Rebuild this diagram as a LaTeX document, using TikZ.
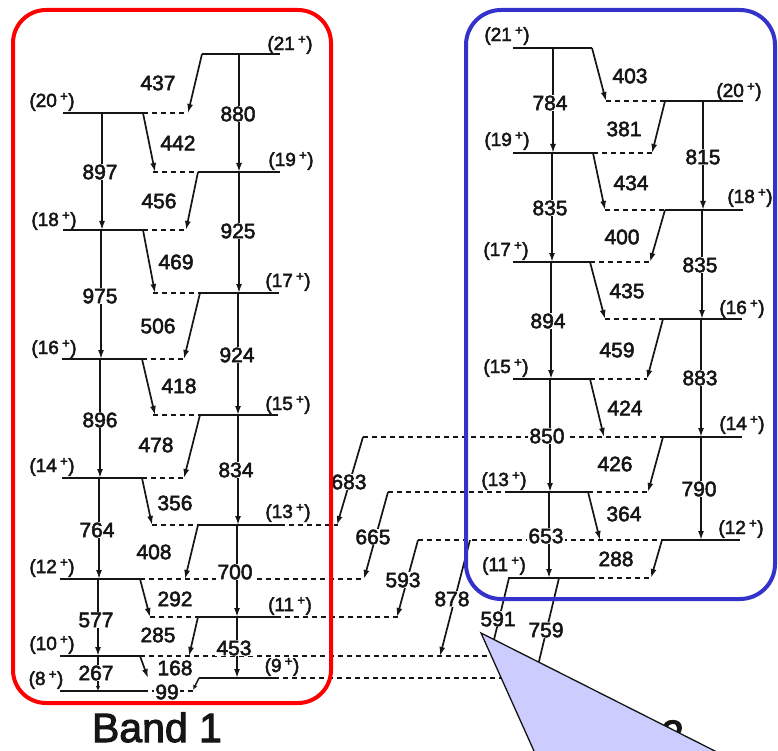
\documentclass[tikz,border=0pt]{standalone}
\usepackage{fontspec}
\setmainfont{Liberation Sans}[RawFeature={embolden=2.5}]
\usetikzlibrary{arrows.meta}
\definecolor{ink}{HTML}{151515}
\definecolor{bandred}{HTML}{FF0000}
\definecolor{bandblue}{HTML}{3333CC}
\definecolor{lav}{HTML}{CCCCFF}
\newcommand\spn[1]{(#1\,\textsuperscript{+})}
\begin{document}
\begin{tikzpicture}[x=1pt,y=-1pt,
  lev/.style={line width=2pt, draw=ink},
  dsh/.style={line width=1.3pt, draw=ink, dash pattern=on 5pt off 4pt},
  tr/.style={line width=1.7pt, draw=ink, -{Latex[length=9pt,width=6pt]}},
  trs/.style={line width=1.4pt, draw=ink, -{Latex[length=5pt,width=4.5pt]}},
  num/.style={font=\fontsize{21}{21}\selectfont, fill=white, inner sep=1pt, text=ink},
  spin/.style={font=\fontsize{19}{19}\selectfont, inner sep=0pt, text=ink},
  bandlab/.style={font=\fontsize{41}{41}\selectfont, inner sep=0pt, anchor=base, text=ink}]
\useasboundingbox (0,0) rectangle (778,751);
\clip (0,0) rectangle (778,751);
\fill[white] (0,0) rectangle (778,751);

% ---------------- Band 1 levels ----------------
\draw[lev] (202,54) -- (280,54);
\draw[lev] (63,113) -- (143,113);  \draw[dsh] (143,113) -- (188,113);
\draw[lev] (198,172) -- (280,172); \draw[dsh] (153,172) -- (198,172);
\draw[lev] (63,230) -- (143,230);  \draw[dsh] (143,230) -- (186,230);
\draw[lev] (198,293) -- (279,293); \draw[dsh] (153,293) -- (198,293);
\draw[lev] (62,359) -- (142,359);  \draw[dsh] (142,359) -- (184,359);
\draw[lev] (198,415) -- (278,415); \draw[dsh] (153,415) -- (198,415);
\draw[lev] (62,478) -- (142,478);  \draw[dsh] (142,478) -- (184,478);
\draw[lev] (198,525) -- (280,525); \draw[dsh] (152,525) -- (198,525); \draw[dsh] (280,525) -- (338,525);
\draw[lev] (60,579) -- (140,579);  \draw[dsh] (140,579) -- (364,579);
\draw[lev] (198,617) -- (276,617); \draw[dsh] (150,617) -- (198,617); \draw[dsh] (276,617) -- (398,617);
\draw[lev] (60,656) -- (140,656);  \draw[dsh] (140,656) -- (492,656);
\draw[lev] (199,678) -- (274,678); \draw[dsh] (274,678) -- (505,678);
\draw[lev] (60,691) -- (143,691);  \draw[dsh] (143,691) -- (193,691);

% ---------------- Band 1 transitions ----------------
\draw[tr] (202,54) -- (188,113);
\draw[tr] (239,54) -- (239,172);
\draw[tr] (143,113) -- (155,172);
\draw[tr] (102,113) -- (102,230);
\draw[tr] (198,172) -- (186,230);
\draw[tr] (239,172) -- (239,293);
\draw[tr] (143,230) -- (155,293);
\draw[tr] (101,230) -- (101,359);
\draw[tr] (200,293) -- (184,359);
\draw[tr] (238,293) -- (238,415);
\draw[tr] (142,359) -- (155,415);
\draw[tr] (100,359) -- (100,478);
\draw[tr] (200,415) -- (184,478);
\draw[tr] (238,415) -- (238,525);
\draw[tr] (142,478) -- (152,525);
\draw[tr] (99,478) -- (99,579);
\draw[tr] (198,525) -- (185,579);
\draw[tr] (237,525) -- (237,617);
\draw[tr] (140,579) -- (150,617);
\draw[tr] (98,579) -- (98,656);
\draw[tr] (198,617) -- (189,656);
\draw[tr] (237,617) -- (237,678);
\draw[tr] (140,656) -- (148,678);
\draw[trs] (98,656) -- (98,691);
\draw[trs] (199,678) -- (193,690);

% ---------------- Band 2 levels ----------------
\draw[lev] (513,48) -- (592,48);
\draw[lev] (663,101) -- (743,101); \draw[dsh] (606,101) -- (663,101);
\draw[lev] (513,153) -- (593,153); \draw[dsh] (593,153) -- (652,153);
\draw[lev] (665,210) -- (743,210); \draw[dsh] (605,210) -- (665,210);
\draw[lev] (513,262) -- (590,262); \draw[dsh] (590,262) -- (650,262);
\draw[lev] (663,319) -- (742,319); \draw[dsh] (605,319) -- (663,319);
\draw[lev] (513,379) -- (590,379); \draw[dsh] (590,379) -- (647,379);
\draw[lev] (663,437) -- (742,437); \draw[dsh] (363,437) -- (663,437);
\draw[lev] (505,492) -- (588,492); \draw[dsh] (388,492) -- (505,492); \draw[dsh] (588,492) -- (648,492);
\draw[lev] (662,540) -- (740,540); \draw[dsh] (418,540) -- (662,540);
\draw[lev] (508,578) -- (590,578); \draw[dsh] (590,578) -- (651,578);

% ---------------- Band 2 transitions ----------------
\draw[tr] (553,48) -- (553,153);
\draw[tr] (592,48) -- (606,101);
\draw[tr] (665,101) -- (652,153);
\draw[tr] (703,101) -- (703,210);
\draw[tr] (552,153) -- (552,262);
\draw[tr] (593,153) -- (605,210);
\draw[tr] (665,210) -- (650,262);
\draw[tr] (702,210) -- (702,319);
\draw[tr] (551,262) -- (551,379);
\draw[tr] (590,262) -- (605,319);
\draw[tr] (663,319) -- (647,379);
\draw[tr] (701,319) -- (701,437);
\draw[tr] (550,379) -- (550,492);
\draw[tr] (590,379) -- (604,437);
\draw[tr] (663,437) -- (648,492);
\draw[tr] (701,437) -- (701,540);
\draw[tr] (549,492) -- (549,578);
\draw[tr] (588,492) -- (600,540);
\draw[tr] (662,540) -- (651,578);

% ---------------- inter-band transitions ----------------
\draw[tr] (363,437) -- (337,525);
\draw[tr] (388,492) -- (364,579);
\draw[tr] (418,540) -- (397,617);
\draw[tr] (470,540) -- (440,656);
\draw[tr] (509,578) -- (490,656);
\draw[tr] (559,578) -- (535,678);

% ---------------- energy labels ----------------
\node[num] (e437) at (158,83) {437};
\node[num] (e880) at (238,114) {880};
\node[num] (e442) at (178,143) {442};
\node[num] (e897) at (100,172) {897};
\node[num] (e456) at (159,201) {456};
\node[num] (e925) at (238,231) {925};
\node[num] (e469) at (176,262) {469};
\node[num] (e975) at (100,296) {975};
\node[num] (e506) at (158,326) {506};
\node[num] (e924) at (237,355) {924};
\node[num] (e418) at (179,386) {418};
\node[num] (e896) at (100,420) {896};
\node[num] (e478) at (156,445) {478};
\node[num] (e834) at (236,470) {834};
\node[num] (e356) at (175,503) {356};
\node[num] (e764) at (97,530) {764};
\node[num] (e408) at (154,552) {408};
\node[num] (e700) at (235,572) {700};
\node[num] (e292) at (175,599) {292};
\node[num] (e577) at (96,620) {577};
\node[num] (e285) at (158,635) {285};
\node[num] (e453) at (234,648) {453};
\node[num] (e168) at (175,668) {168};
\node[num] (e267) at (96,673) {267};
\node[num] (e99) at (167,692) {99};

\node[num] (e403) at (630,76) {403};
\node[num] (e784) at (550,103) {784};
\node[num] (e381) at (624,129) {381};
\node[num] (e815) at (703,157) {815};
\node[num] (e434) at (631,183) {434};
\node[num] (e835a) at (550,208) {835};
\node[num] (e400) at (622,237) {400};
\node[num] (e835b) at (700,265) {835};
\node[num] (e435) at (627,291) {435};
\node[num] (e894) at (548,321) {894};
\node[num] (e459) at (617,350) {459};
\node[num] (e883) at (700,378) {883};
\node[num] (e424) at (625,408) {424};
\node[num] (e850) at (547,436) {850};
\node[num] (e426) at (615,464) {426};
\node[num] (e790) at (699,489) {790};
\node[num] (e364) at (624,514) {364};
\node[num] (e653) at (546,536) {653};
\node[num] (e288) at (616,559) {288};

\node[num] (e683) at (349,482) {683};
\node[num] (e665) at (373,537) {665};
\node[num] (e593) at (403,580) {593};
\node[num] (e878) at (452,599) {878};
\node[num] (e591) at (498,619) {591};
\node[num] (e759) at (546,630) {759};

% ---------------- spin labels ----------------
\node[spin] (s21a) at (290,45) {\spn{21}};
\node[spin] (s20a) at (52,102) {\spn{20}};
\node[spin] (s19a) at (291,161) {\spn{19}};
\node[spin] (s18a) at (54,221) {\spn{18}};
\node[spin] (s17a) at (288,282) {\spn{17}};
\node[spin] (s16a) at (54,349) {\spn{16}};
\node[spin] (s15a) at (288,405) {\spn{15}};
\node[spin] (s14a) at (52,467) {\spn{14}};
\node[spin] (s13a) at (288,513) {\spn{13}};
\node[spin] (s12a) at (52,568) {\spn{12}};
\node[spin] (s11a) at (290,606) {\spn{11}};
\node[spin] (s10a) at (52,645) {\spn{10}};
\node[spin] (s9a) at (282,667) {\spn{9}};
\node[spin] (s8a) at (46,680) {\spn{8}};

\node[spin] (s21b) at (507,36) {\spn{21}};
\node[spin] (s20b) at (739,92) {\spn{20}};
\node[spin] (s19b) at (507,141) {\spn{19}};
\node[spin] (s18b) at (750,198) {\spn{18}};
\node[spin] (s17b) at (506,251) {\spn{17}};
\node[spin] (s16b) at (742,309) {\spn{16}};
\node[spin] (s15b) at (506,368) {\spn{15}};
\node[spin] (s14b) at (742,425) {\spn{14}};
\node[spin] (s13b) at (504,481) {\spn{13}};
\node[spin] (s12b) at (741,529) {\spn{12}};
\node[spin] (s11b) at (504,566) {\spn{11}};

% ---------------- band boxes ----------------
\draw[bandred, line width=4pt, rounded corners=33pt] (13,10) rectangle (331,703);
\draw[bandblue, line width=4pt, rounded corners=35pt] (466,10) rectangle (775,599);

\node[bandlab] (b1) at (157,742) {Band 1};
\node[bandlab] (b2) at (619,749) {Band 2};

% ---------------- callout triangle ----------------
\filldraw[fill=lav, draw=ink, line width=1.3pt] (481,633) -- (820,804) -- (820,820) -- (565,820) -- cycle;
\end{tikzpicture}
\end{document}
